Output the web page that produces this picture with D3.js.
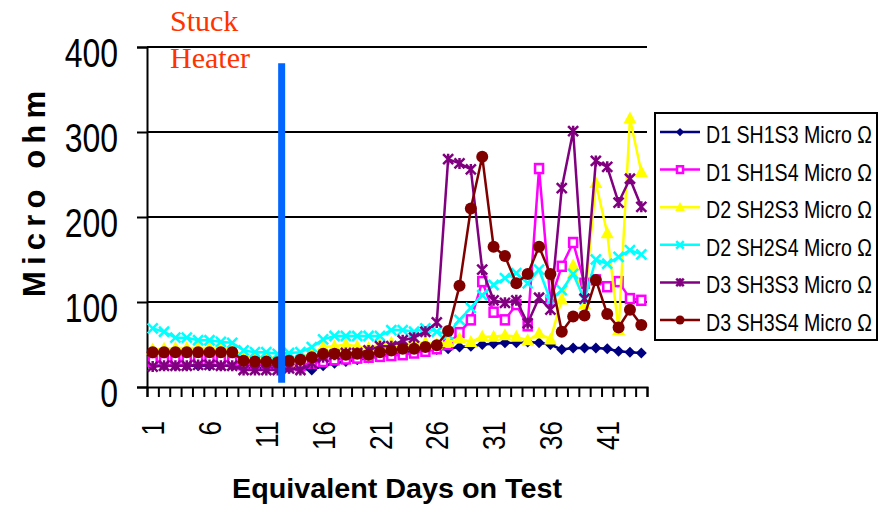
<!DOCTYPE html>
<html><head><meta charset="utf-8">
<script src="https://cdn.jsdelivr.net/npm/d3@7"></script>
<style>body{margin:0;background:#fff} svg{display:block}</style>
</head><body>
<svg id="chart" width="880" height="506"></svg>
<script>
// ---- data ----
const days = [1,2,3,4,5,6,7,8,9,10,11,12,13,14,15,16,17,18,19,20,21,22,23,24,25,26,27,28,29,30,31,32,33,34,35,36,37,38,39,40,41,42,43,44];
const xTickLabels = [1,6,11,16,21,26,31,36,41];
const yTicks = [0,100,200,300,400];
const seriesNames = ["D1 SH1S3 Micro  Ω","D1 SH1S4 Micro  Ω","D2 SH2S3 Micro  Ω","D2 SH2S4 Micro  Ω","D3 SH3S3 Micro  Ω","D3 SH3S4 Micro  Ω"];
const d1sh1s3 = [25,25,25,25,25,25,25,25,22,22,22,22,22,22,20,25,28,30,32,34,36,38,40,42,43,44,45,47,48,50,51,52,52,53,52,50,44,46,46,46,45,42,41,40];
const d1sh1s4 = [30,30,31,31,31,31,31,30,26,26,26,26,25,25,28,30,32,33,34,35,36,37,38,40,42,45,50,64,79,124,88,79,97,72,257,102,142,170,122,126,118,124,104,102];
const d2sh2s3 = [44,45,46,46,46,46,46,45,36,35,35,34,30,35,40,47,48,50,48,46,50,52,50,52,52,50,53,57,53,59,59,61,59,55,63,56,103,143,97,240,181,67,316,253];
const d2sh2s4 = [69,65,58,58,55,55,53,52,43,41,41,39,40,41,47,56,60,60,60,60,60,67,67,65,69,65,62,79,93,108,120,128,134,122,138,102,114,133,103,150,145,153,161,156];
const d3sh3s3 = [24,25,25,25,26,26,25,25,20,20,20,20,22,20,28,35,38,40,40,43,48,48,55,58,65,76,268,263,256,138,102,99,102,75,105,91,234,301,104,266,259,217,245,212];
const d3sh3s4 = [41,41,41,41,41,41,41,41,31,30,30,29,31,32,35,39,39,38,39,38,41,43,45,45,47,49,66,119,210,271,165,154,122,133,165,133,65,83,84,126,86,70,91,73];
const stuckDay = [12.35];
const stuckRange = [5, 381];
const stuckLabel = ["Stuck","Heater"];

const colors = ["#000080","#FF00FF","#FFFF00","#00FFFF","#800080","#800000"];
const markers = ["diamond","square","triangle","x","star","circle"];
const allSeries = [d1sh1s3,d1sh1s4,d2sh2s3,d2sh2s4,d3sh3s3,d3sh3s4];

// ---- layout ----
const svg = d3.select("#chart");
const x = d3.scaleLinear().domain([0.5, 44.5]).range([147, 647]);
const y = d3.scaleLinear().domain([0, 400]).range([387, 47]);
const sans = "'Liberation Sans', Arial, Helvetica, sans-serif";

function condense(sel, f) {
  sel.each(function(){
    const w = this.getComputedTextLength();
    this.setAttribute("textLength", w * f);
    this.setAttribute("lengthAdjust", "spacingAndGlyphs");
  });
}

// gridlines
svg.append("g").selectAll("line").data(yTicks.filter(v => v > 0)).join("line")
  .attr("x1", x(0.5)).attr("x2", x(44.5))
  .attr("y1", d => y(d)).attr("y2", d => y(d))
  .attr("stroke", "#000").attr("stroke-width", 2);

// y axis
const yAxis = svg.append("g").attr("transform", `translate(${x(0.5)},0)`)
  .call(d3.axisLeft(y).tickValues(yTicks).tickSize(10).tickPadding(19).tickFormat(d3.format("d")));
yAxis.select(".domain").attr("stroke", "#000").attr("stroke-width", 2);
yAxis.selectAll(".tick line").attr("stroke", "#000").attr("stroke-width", 2);
yAxis.selectAll(".tick text").attr("font-family", sans).attr("font-size", 41).attr("fill", "#000").attr("dy", "0.48em");
condense(yAxis.selectAll(".tick text"), 0.78);

// x axis tick marks (category boundaries)
const bounds = [0.5].concat(days.map(d => d + 0.5));
const xAxis = svg.append("g").attr("transform", `translate(0,${y(0)})`)
  .call(d3.axisBottom(x).tickValues(bounds).tickSize(10).tickFormat(""));
xAxis.select(".domain").attr("stroke", "#000").attr("stroke-width", 2);
xAxis.selectAll(".tick line").attr("stroke", "#000").attr("stroke-width", 2);

// x axis labels
const xLab = svg.append("g").attr("transform", `translate(0,${y(0)})`)
  .call(d3.axisBottom(x).tickValues(xTickLabels).tickSize(0).tickFormat(d3.format("d")));
xLab.select(".domain").remove();
xLab.selectAll(".tick text")
  .attr("font-family", sans).attr("font-size", 31).attr("fill", "#000")
  .attr("text-anchor", "end").attr("y", 0).attr("dy", "0.36em")
  .attr("transform", "translate(0,34) rotate(-90)");
condense(xLab.selectAll(".tick text"), 0.84);

// axis titles
svg.append("text").attr("x", (x(0.5) + x(44.5)) / 2).attr("y", 498)
  .attr("text-anchor", "middle").attr("font-family", sans).attr("font-weight", "bold")
  .attr("font-size", 28).attr("textLength", 330).attr("lengthAdjust", "spacingAndGlyphs")
  .text("Equivalent Days on Test");
svg.append("text").attr("transform", "translate(45,194) rotate(-90)")
  .attr("text-anchor", "middle").attr("font-family", sans).attr("font-weight", "bold")
  .attr("font-size", 31).attr("textLength", 206).attr("lengthAdjust", "spacing")
  .text("Micro ohm");

// marker drawing
function drawMarker(g, type, color, s) {
  if (type === "diamond") {
    g.append("path").attr("d", `M0,${-5.5*s}L${5.5*s},0L0,${5.5*s}L${-5.5*s},0Z`).attr("fill", color);
  } else if (type === "square") {
    g.append("rect").attr("x", -4*s).attr("y", -4.5*s).attr("width", 8*s).attr("height", 9*s)
      .attr("fill", "#fff").attr("stroke", color).attr("stroke-width", 2.5);
  } else if (type === "triangle") {
    g.append("path").attr("d", `M0,${-7*s}L${6.5*s},${5*s}L${-6.5*s},${5*s}Z`).attr("fill", color);
  } else if (type === "x") {
    g.append("path").attr("d", `M${-5*s},${-5*s}L${5*s},${5*s}M${5*s},${-5*s}L${-5*s},${5*s}`)
      .attr("stroke", color).attr("stroke-width", 2.5).attr("fill", "none");
  } else if (type === "star") {
    g.append("path").attr("d", `M${-5*s},${-5*s}L${5*s},${5*s}M${5*s},${-5*s}L${-5*s},${5*s}M0,${-5.5*s}L0,${5.5*s}`)
      .attr("stroke", color).attr("stroke-width", 2.5).attr("fill", "none");
  } else if (type === "circle") {
    g.append("circle").attr("r", 6*s).attr("fill", color);
  }
}

// series
const line = d3.line().x((d, i) => x(days[i])).y(d => y(d));
allSeries.forEach((vals, si) => {
  const g = svg.append("g");
  g.append("path").datum(vals).attr("d", line).attr("fill", "none")
    .attr("stroke", colors[si]).attr("stroke-width", 2.5).attr("stroke-linejoin", "round");
  vals.forEach((v, i) => {
    const m = g.append("g").attr("transform", `translate(${x(days[i])},${y(v)})`);
    drawMarker(m, markers[si], colors[si], 1);
  });
});

// stuck heater line
svg.append("g").selectAll("line").data(stuckDay).join("line")
  .attr("x1", d => x(d)).attr("x2", d => x(d))
  .attr("y1", y(stuckRange[0])).attr("y2", y(stuckRange[1]))
  .attr("stroke", "#0066FF").attr("stroke-width", 7);
svg.append("g").selectAll("text").data(stuckLabel).join("text")
  .attr("x", 170).attr("y", (d, i) => 31 + i * 37)
  .attr("font-family", "'Liberation Serif', 'Times New Roman', serif")
  .attr("font-size", 30).attr("fill", "#FF3300").text(d => d);

// legend
const lg = svg.append("g");
lg.append("rect").attr("x", 655).attr("y", 113).attr("width", 222).attr("height", 227)
  .attr("fill", "#fff").attr("stroke", "#000").attr("stroke-width", 2);
seriesNames.forEach((name, i) => {
  const ry = 132 + i * 37.6;
  lg.append("line").attr("x1", 660).attr("x2", 700).attr("y1", ry).attr("y2", ry)
    .attr("stroke", colors[i]).attr("stroke-width", 2.5);
  const m = lg.append("g").attr("transform", `translate(680,${ry})`);
  drawMarker(m, markers[i], colors[i], 0.75);
  const t = lg.append("text").attr("x", 0).attr("y", 0)
    .attr("font-family", sans).attr("font-size", 23).attr("fill", "#000").text(name);
  const w = t.node().getComputedTextLength();
  t.attr("transform", `translate(706,${ry + 11}) scale(${166 / w},1)`);
});
</script>
</body></html>
